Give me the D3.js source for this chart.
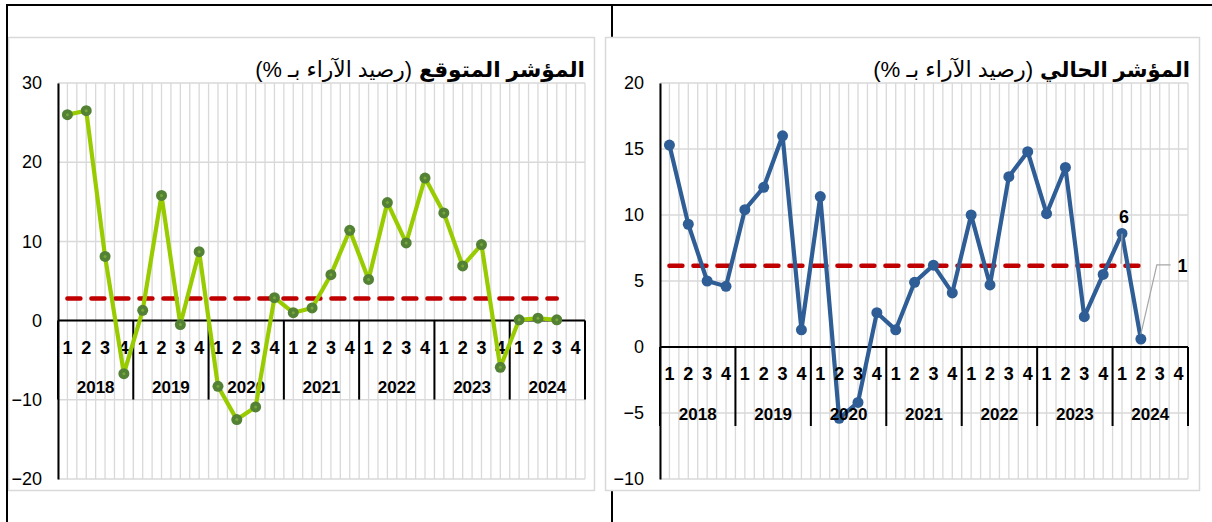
<!DOCTYPE html>
<html>
<head>
<meta charset="utf-8">
<script src="https://cdn.jsdelivr.net/npm/d3@7"></script>
<style>
  html, body { margin: 0; padding: 0; background: #ffffff; }
  svg { display: block; }
  text { font-family: "Liberation Sans", Arial, "DejaVu Sans", sans-serif; }
</style>
</head>
<body>
<svg id="chart" width="1212" height="522"></svg>
<script>
// ---------- data ----------
const years = ["2018", "2019", "2020", "2021", "2022", "2023", "2024"];
const quarters = ["1", "2", "3", "4"];

const expectedTitleBold = "المؤشر المتوقع";
const expectedTitleNote = "(رصيد الآراء بـ %)";
const expectedValues = [26.0, 26.5, 8.1, -6.7, 1.3, 15.8, -0.5, 8.7, -8.3, -12.5, -10.9, 2.9,
                        1.0, 1.6, 5.8, 11.4, 5.2, 14.9, 9.8, 18.0, 13.6, 6.9, 9.6, -5.9, 0.1, 0.3, 0.1];
const expectedAverage = 2.8;
const expectedTicks = [30, 20, 10, 0, -10, -20];

const currentTitleBold = "المؤشر الحالي";
const currentTitleNote = "(رصيد الآراء بـ %)";
const currentValues = [15.3, 9.3, 5.0, 4.6, 10.4, 12.1, 16.0, 1.3, 11.4, -5.4, -4.2, 2.6,
                       1.3, 4.9, 6.2, 4.1, 10.0, 4.7, 12.9, 14.8, 10.1, 13.6, 2.3, 5.5, 8.6, 0.6];
const currentAverage = 6.15;
const currentTicks = [20, 15, 10, 5, 0, -5, -10];

// ---------- drawing ----------
const svg = d3.select("#chart");
const categories = [];
years.forEach(y => quarters.forEach(q => categories.push({ year: y, q })));

const arabicFont = "'DejaVu Sans', 'Liberation Sans', sans-serif";

// outer frame
svg.append("line").attr("x1", 7).attr("x2", 1212).attr("y1", 5).attr("y2", 5)
  .attr("stroke", "#000").attr("stroke-width", 2);
svg.append("line").attr("x1", 612).attr("x2", 612).attr("y1", 5).attr("y2", 522)
  .attr("stroke", "#000").attr("stroke-width", 2);

// fit a text element's font size so that it spans a target width
function fitText(sel, baseSize, targetWidth) {
  sel.attr("font-size", baseSize);
  const w = sel.node().getComputedTextLength();
  const size = Math.max(10, Math.min(40, baseSize * targetWidth / w));
  sel.attr("font-size", size);
  return sel.node().getComputedTextLength();
}

function drawPanel(cfg) {
  const g = svg.append("g");
  g.append("rect").attr("x", cfg.panel[0] + 0.5).attr("y", cfg.panel[1] + 0.5)
    .attr("width", cfg.panel[2] - cfg.panel[0]).attr("height", cfg.panel[3] - cfg.panel[1])
    .attr("fill", "#fff").attr("stroke", "#d9d9d9").attr("stroke-width", 1.5);

  const x = d3.scaleBand().domain(d3.range(categories.length)).range([cfg.x0, cfg.x1]).paddingInner(0).paddingOuter(0);
  const y = d3.scaleLinear().domain(cfg.domain).range([cfg.yBottom, cfg.yTop]);
  const bw = x.bandwidth();
  const cx = i => x(i) + bw / 2;

  const vg = d3.range(0, categories.length * 2 + 1).map(k => cfg.x0 + k * bw / 2);
  g.selectAll(".vg").data(vg).enter().append("line")
    .attr("x1", d => d).attr("x2", d => d).attr("y1", cfg.yTop).attr("y2", cfg.yBottom)
    .attr("stroke", "#d9d9d9").attr("stroke-width", 1.3);
  g.selectAll(".hg").data(cfg.ticks).enter().append("line")
    .attr("x1", cfg.x0).attr("x2", cfg.x1).attr("y1", d => y(d)).attr("y2", d => y(d))
    .attr("stroke", "#d9d9d9").attr("stroke-width", 1.5);

  const yAxis = d3.axisLeft(y).tickValues(cfg.ticks).tickSize(0).tickPadding(16).tickFormat(d3.format("d"));
  const ya = g.append("g").attr("transform", `translate(${cfg.x0},0)`).call(yAxis);
  ya.select(".domain").attr("stroke", "#000").attr("stroke-width", 2);
  ya.selectAll("text").attr("font-size", 18).attr("fill", "#000")
    .attr("font-family", "'Liberation Sans', Arial, sans-serif");

  const y0 = y(0);
  const labelsG = svg.append("g");
  g.append("line").attr("x1", cfg.x0).attr("x2", cfg.x1).attr("y1", y0).attr("y2", y0)
    .attr("stroke", "#000").attr("stroke-width", 2);
  const seps = d3.range(0, categories.length + 1, 4);
  g.selectAll(".sep").data(seps).enter().append("line")
    .attr("x1", d => d === categories.length ? cfg.x1 : x(d))
    .attr("x2", d => d === categories.length ? cfg.x1 : x(d))
    .attr("y1", y0).attr("y2", y0 + 79)
    .attr("stroke", "#000").attr("stroke-width", 2);
  const labelLayer = cfg.labelsOnTop ? labelsG : g;
  labelLayer.selectAll(".ql").data(categories).enter().append("text")
    .attr("x", (d, i) => cx(i)).attr("y", y0 + 27)
    .attr("text-anchor", "middle").attr("dominant-baseline", "central")
    .attr("font-size", 18).attr("font-weight", "bold").attr("fill", "#000")
    .text(d => d.q);
  labelLayer.selectAll(".yl").data(years).enter().append("text")
    .attr("x", (d, i) => x(i * 4) + bw * 2).attr("y", y0 + 67)
    .attr("text-anchor", "middle").attr("dominant-baseline", "central")
    .attr("font-size", 17).attr("font-weight", "bold").attr("fill", "#000")
    .text(d => d);

  const n = cfg.values.length;
  g.append("line").attr("x1", cx(0)).attr("x2", cx(n - 1))
    .attr("y1", y(cfg.average)).attr("y2", y(cfg.average))
    .attr("stroke", "#c00000").attr("stroke-width", 4.5)
    .attr("stroke-dasharray", "13,11").attr("stroke-linecap", "round");

  const line = d3.line().x((d, i) => cx(i)).y(d => y(d));
  g.append("path").datum(cfg.values).attr("d", line)
    .attr("fill", "none").attr("stroke", cfg.lineColor).attr("stroke-width", 4.2)
    .attr("stroke-linejoin", "round");
  g.selectAll(".mk").data(cfg.values).enter().append("circle")
    .attr("cx", (d, i) => cx(i)).attr("cy", d => y(d)).attr("r", 5.5)
    .attr("fill", cfg.markerColor);
  if (cfg.markerDot) {
    g.selectAll(".mkd").data(cfg.values).enter().append("circle")
      .attr("cx", (d, i) => cx(i)).attr("cy", d => y(d)).attr("r", 1.5)
      .attr("fill", cfg.markerDot);
  }

  // title (RTL): bold part at right, note to its left
  const tb = svg.append("text").attr("x", cfg.titleRight).attr("y", cfg.titleY)
    .attr("direction", "rtl").attr("text-anchor", "start")
    .attr("font-family", arabicFont).attr("font-weight", "bold").attr("fill", "#000")
    .text(cfg.titleBold);
  const w = fitText(tb, 20, cfg.boldWidth);
  const tn = svg.append("text").attr("x", cfg.titleRight - w - 7).attr("y", cfg.titleY)
    .attr("direction", "rtl").attr("text-anchor", "start")
    .attr("font-family", arabicFont).attr("fill", "#000")
    .text(cfg.titleNote);
  fitText(tn, 16, cfg.noteWidth);

  return { x, y, cx, g };
}

const left = drawPanel({
  panel: [8, 37, 594, 490], x0: 58, x1: 585, yTop: 83, yBottom: 479,
  domain: [-20, 30], ticks: expectedTicks, values: expectedValues, average: expectedAverage,
  lineColor: "#99cc00", markerColor: "#548235", markerDot: "#77a53a",
  titleBold: expectedTitleBold, titleNote: expectedTitleNote, titleRight: 585, titleY: 77,
  boldWidth: 166, noteWidth: 157, labelsOnTop: false
});

const right = drawPanel({
  panel: [605, 37, 1199, 490], x0: 660, x1: 1188, yTop: 83, yBottom: 479,
  domain: [-10, 20], ticks: currentTicks, values: currentValues, average: currentAverage,
  lineColor: "#2f5d95", markerColor: "#2f5d95", markerDot: null,
  titleBold: currentTitleBold, titleNote: currentTitleNote, titleRight: 1190, titleY: 77,
  boldWidth: 150, noteWidth: 160, labelsOnTop: true
});

// data labels on the right chart (average label and last value label)
{
  const { cx, y } = right;
  const iAvg = currentValues.length - 2;
  const ax = cx(iAvg), ay = y(currentAverage);
  svg.append("line").attr("x1", ax).attr("x2", ax - 1).attr("y1", ay - 32).attr("y2", ay - 2)
    .attr("stroke", "#a6a6a6").attr("stroke-width", 1.2);
  svg.append("text").attr("x", ax + 2).attr("y", ay - 49)
    .attr("text-anchor", "middle").attr("dominant-baseline", "central")
    .attr("font-size", 18).attr("font-weight", "bold").attr("fill", "#000")
    .text(Math.round(currentAverage));

  const iLast = currentValues.length - 1;
  const lx = cx(iLast), ly = y(currentValues[iLast]);
  const labX = cx(iLast + 2) + 4, labY = y(currentAverage) - 1;
  svg.append("polyline")
    .attr("points", `${lx},${ly - 5} ${lx + 16},${labY} ${labX - 12},${labY}`)
    .attr("fill", "none").attr("stroke", "#a6a6a6").attr("stroke-width", 1.2);
  svg.append("text").attr("x", labX).attr("y", labY + 1)
    .attr("text-anchor", "middle").attr("dominant-baseline", "central")
    .attr("font-size", 18).attr("font-weight", "bold").attr("fill", "#000")
    .text(Math.round(currentValues[iLast]));
}

// left frame line on top
svg.append("line").attr("x1", 7).attr("x2", 7).attr("y1", 4).attr("y2", 522)
  .attr("stroke", "#000").attr("stroke-width", 2);
</script>
</body>
</html>
